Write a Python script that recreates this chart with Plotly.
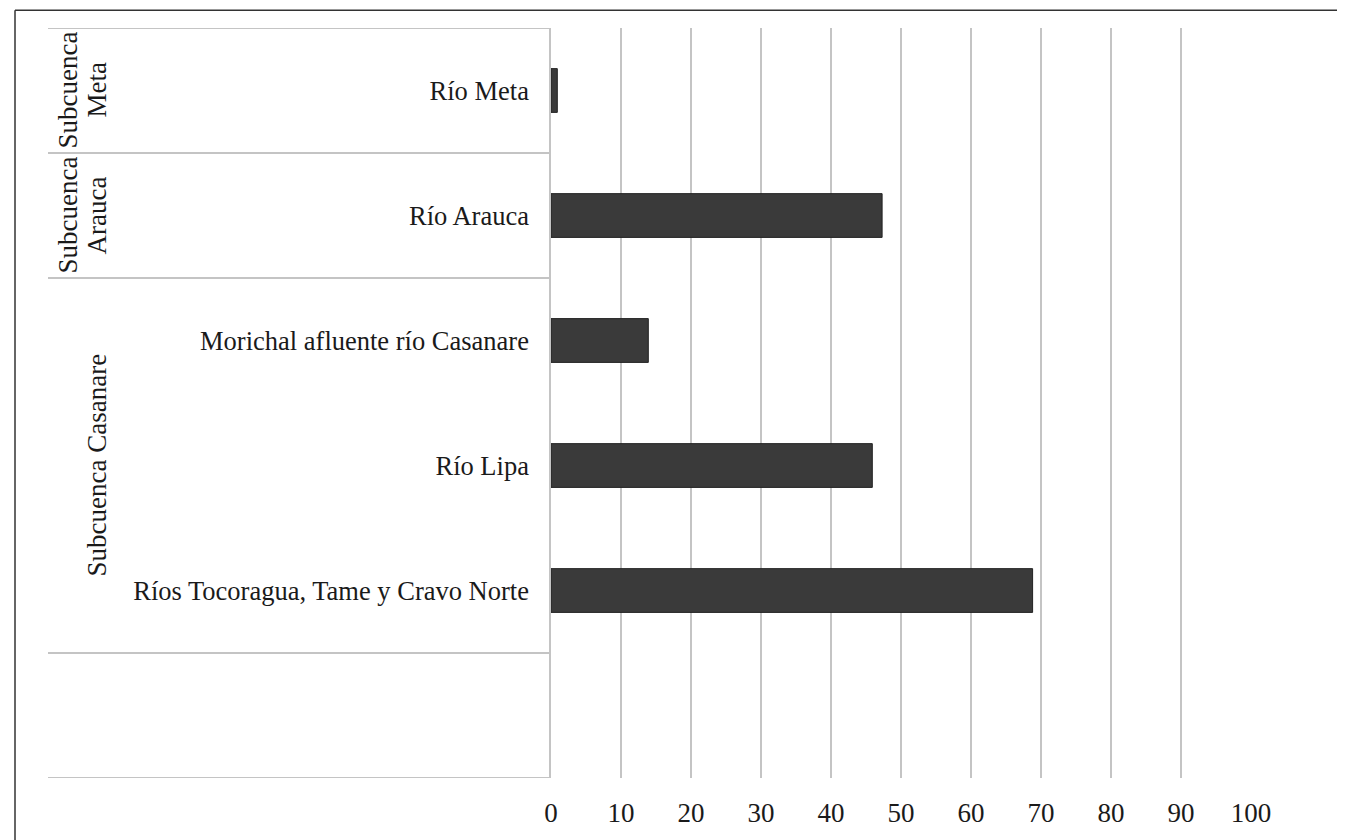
import plotly.graph_objects as go

# ---- data ----
categories = ["Río Meta", "Río Arauca", "Morichal afluente río Casanare",
              "Río Lipa", "Ríos Tocoragua, Tame y Cravo Norte"]
values = [0.9, 47.3, 13.9, 45.9, 68.8]
groups = ["Subcuenca<br>Meta", "Subcuenca<br>Arauca", "Subcuenca Casanare"]
group_sizes = [1, 1, 3]
x_ticks = [0, 10, 20, 30, 40, 50, 60, 70, 80, 90, 100]

# positions: top row = highest y; one empty row at the bottom
n_rows = len(categories) + 1
y_pos = [n_rows - 1 - i for i in range(len(categories))]

FONT = "Liberation Serif, Times New Roman, serif"
TXT = "#1a1a1a"
GRID = "#c4c4c4"

fig = go.Figure(go.Bar(
    x=values, y=y_pos, orientation="h", width=0.35,
    marker=dict(color="#3a3a3a", line=dict(color="#222222", width=1)),
))

# page body has an 8px margin, so the figure is shifted by 8px
OFF = 8
W, H = 1345 - OFF, 840 - OFF
L, R, T, B = 551 - OFF, 94, 28 - OFF, 55
pw = W - L - R
ph = H - T - B

shapes = []
col_left = (48 - OFF - L) / pw
bounds = [n_rows - 0.5]
acc = n_rows - 0.5
for g in group_sizes:
    acc -= g
    bounds.append(acc)
bounds.append(-0.5)
for b in bounds:
    shapes.append(dict(type="line", xref="paper", yref="y", x0=col_left, x1=0,
                       y0=b, y1=b, line=dict(color=GRID, width=2)))
# outer frame (top and left edges visible)
fx = (15 - OFF - L) / pw
fy = 1 + (T - (10 - OFF)) / ph
shapes.append(dict(type="line", xref="paper", yref="paper",
                   x0=fx, x1=(W + 5 - L) / pw, y0=fy, y1=fy,
                   line=dict(color="#333333", width=1.5)))
shapes.append(dict(type="line", xref="paper", yref="paper",
                   x0=fx, x1=fx, y0=fy, y1=-(B + 10) / ph,
                   line=dict(color="#333333", width=1.5)))

annotations = []
acc = n_rows - 0.5
for g, s in zip(groups, group_sizes):
    center = acc - s / 2
    acc -= s
    lines = g.split("<br>")
    for k, line in enumerate(lines):
        xc = 96 - 29 * (len(lines) - 1 - k) - OFF
        annotations.append(dict(text=line, xref="paper", yref="y", x=(xc - L) / pw, y=center,
                                textangle=-90, showarrow=False, xanchor="center", yanchor="middle",
                                font=dict(family=FONT, size=27, color=TXT)))

fig.update_layout(
    width=W, height=H,
    margin=dict(l=L, r=R, t=T, b=B),
    paper_bgcolor="white", plot_bgcolor="white",
    showlegend=False,
    font=dict(family=FONT, size=26, color=TXT),
    shapes=shapes, annotations=annotations,
    xaxis=dict(range=[0, 100], tickvals=x_ticks, ticktext=[str(t) for t in x_ticks],
               showgrid=True, gridcolor=GRID, gridwidth=1.5, zeroline=False,
               showline=False, ticks="outside", ticklen=11, tickcolor="rgba(0,0,0,0)",
               tickfont=dict(family=FONT, size=27, color=TXT)),
    yaxis=dict(range=[-0.5, n_rows - 0.5], tickvals=y_pos, ticktext=categories,
               showgrid=False, zeroline=False, showline=True, linecolor=GRID, linewidth=1.5,
               ticks="outside", ticklen=15, tickcolor="rgba(0,0,0,0)",
               tickfont=dict(family=FONT, size=26.5, color=TXT)),
)

fig.write_html("out.html")
